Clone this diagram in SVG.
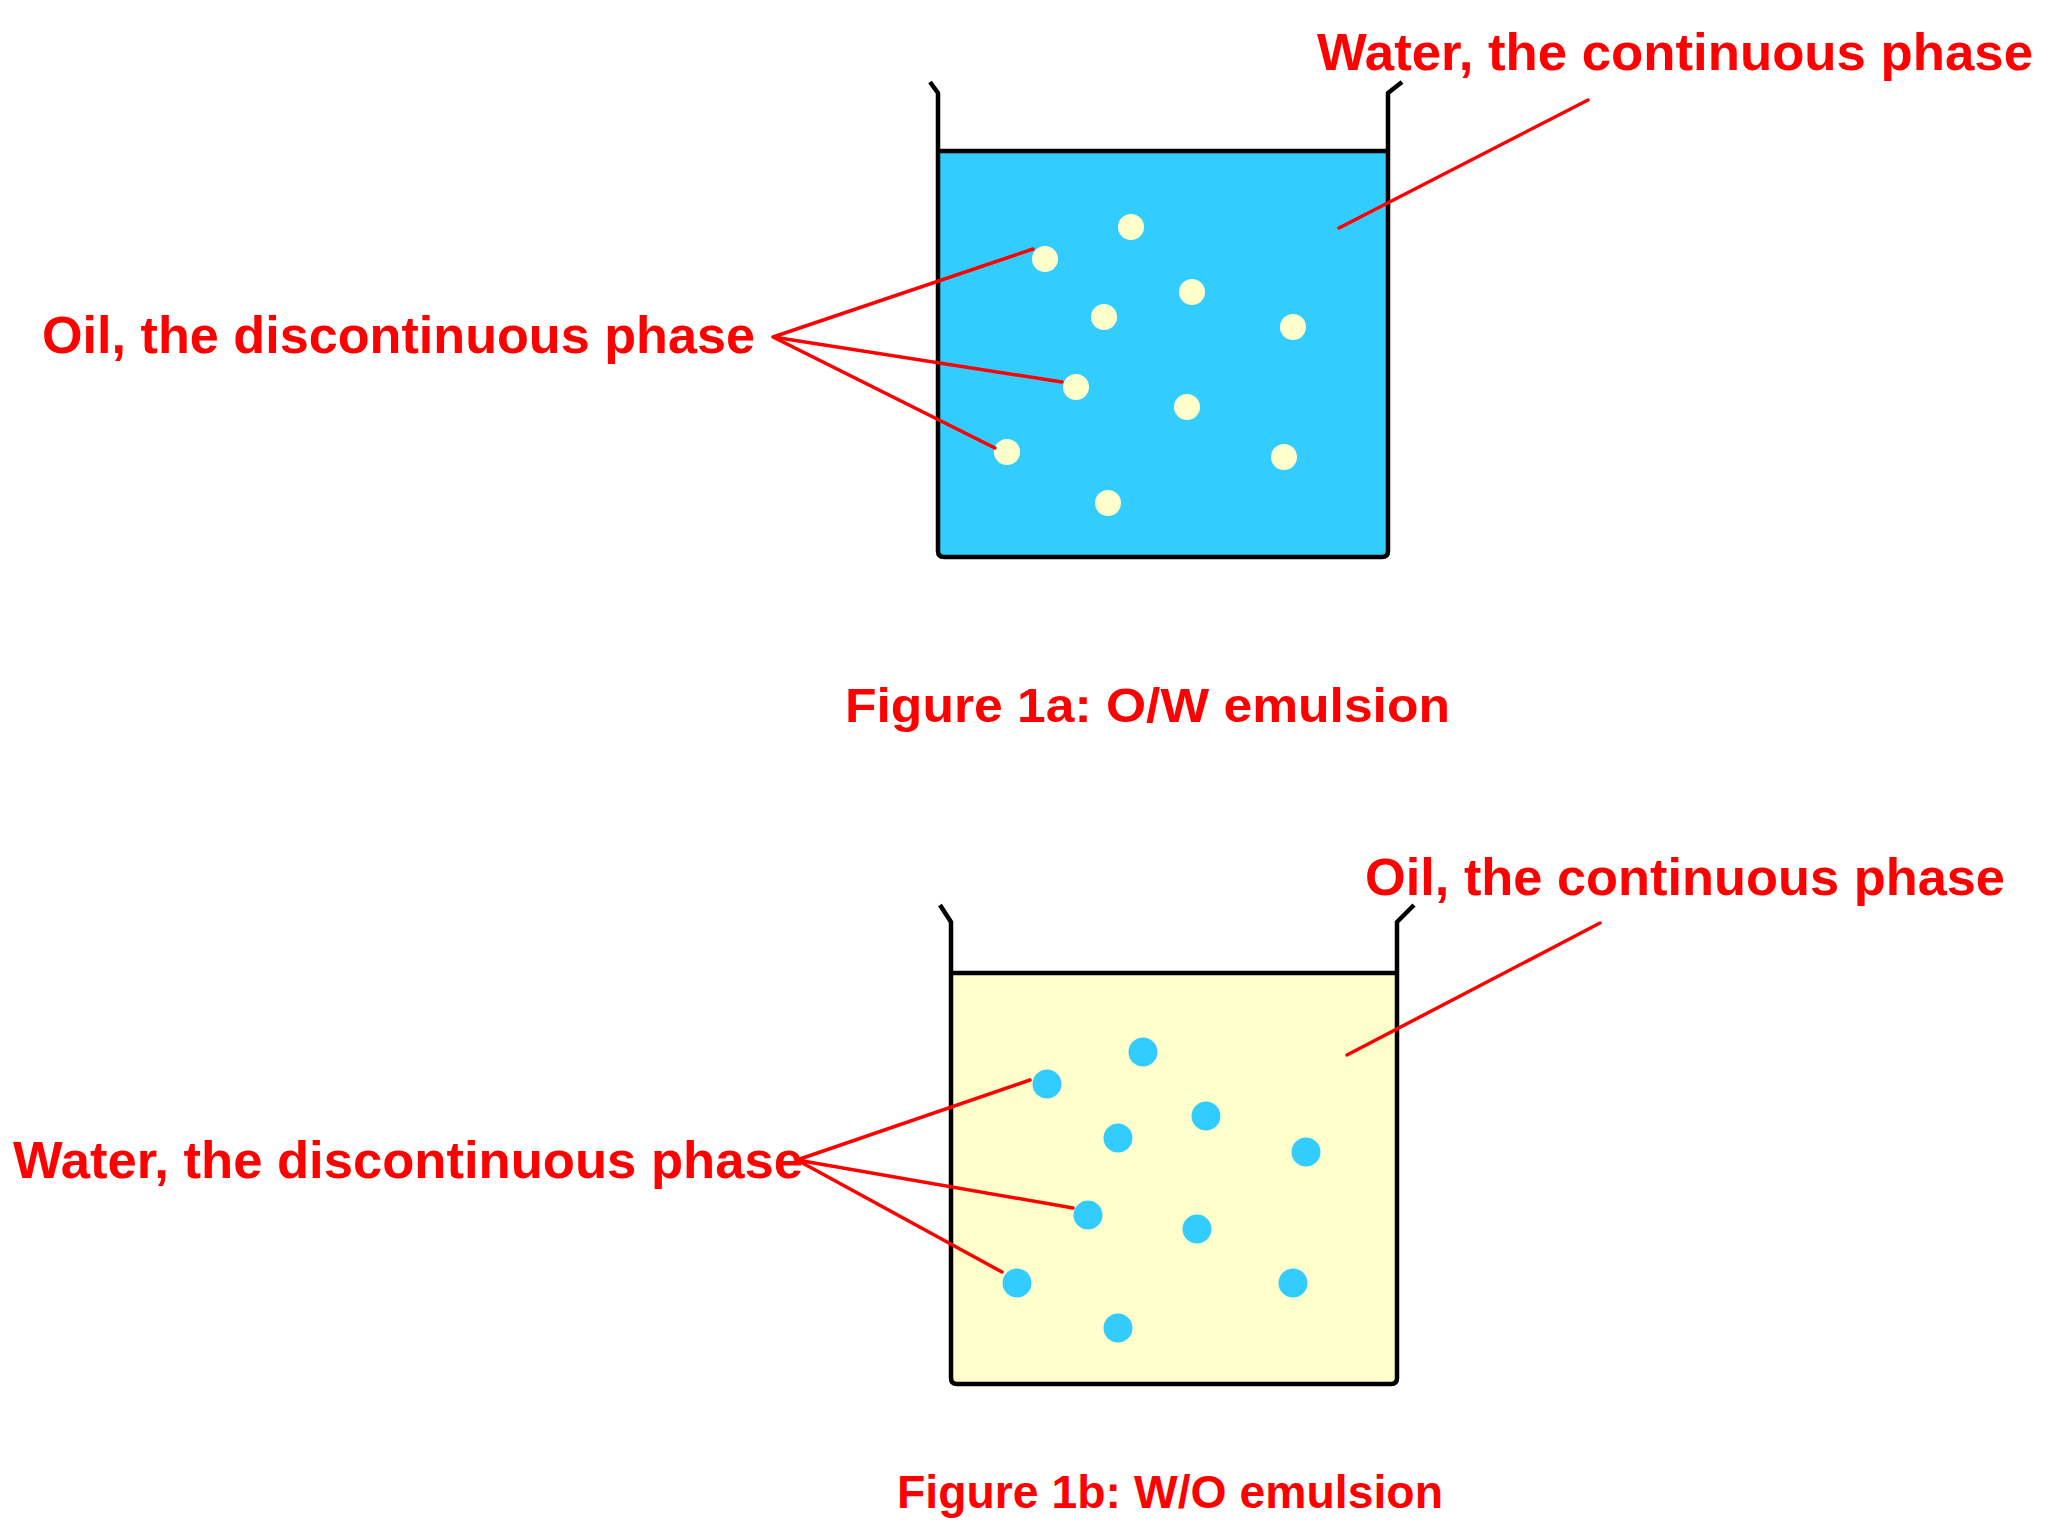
<svg xmlns="http://www.w3.org/2000/svg" width="2048" height="1536" viewBox="0 0 2048 1536">
<style>
.lbl{font-family:"Liberation Sans","Arial",sans-serif;font-weight:bold;font-size:52px;fill:#FF0000}
.cap{font-family:"Liberation Sans","Arial",sans-serif;font-weight:bold;fill:#FF0000}
.wall{fill:none;stroke:#000;stroke-width:4.5;stroke-linejoin:round}
.lev{stroke:#000;stroke-width:4.5}
.ptr{stroke:#FF0000;stroke-width:3.5;fill:none;stroke-linecap:round}
.oil{fill:#FFFFCC}
.wat{fill:#33CCFF}
</style>
<rect width="2048" height="1536" fill="#FFFFFF"/>
<g id="beaker-ow">
<rect class="wat" x="938" y="151" width="450" height="406" rx="5"/>
<line class="lev" x1="938" y1="151" x2="1388" y2="151"/>
<path class="wall" d="M930,82 L938,93 L938,551 Q938,557 944,557 L1382,557 Q1388,557 1388,551 L1388,93 L1402,82"/>
<g class="oil">
<circle cx="1131" cy="227" r="13"/>
<circle cx="1045" cy="259" r="13"/>
<circle cx="1192" cy="292" r="13"/>
<circle cx="1104" cy="317" r="13"/>
<circle cx="1293" cy="327" r="13"/>
<circle cx="1076" cy="387" r="13"/>
<circle cx="1187" cy="407" r="13"/>
<circle cx="1007" cy="452" r="13"/>
<circle cx="1284" cy="457" r="13"/>
<circle cx="1108" cy="503" r="13"/>
</g>
</g>
<g id="beaker-wo">
<rect class="oil" x="951" y="973" width="446" height="411" rx="5"/>
<line class="lev" x1="951" y1="973" x2="1397" y2="973"/>
<path class="wall" d="M940,905 L951,922 L951,1378 Q951,1384 957,1384 L1391,1384 Q1397,1384 1397,1378 L1397,922 L1414,905"/>
<g class="wat">
<circle cx="1143" cy="1052" r="14.5"/>
<circle cx="1047" cy="1084" r="14.5"/>
<circle cx="1206" cy="1116" r="14.5"/>
<circle cx="1118" cy="1138" r="14.5"/>
<circle cx="1306" cy="1152" r="14.5"/>
<circle cx="1088" cy="1215" r="14.5"/>
<circle cx="1197" cy="1229" r="14.5"/>
<circle cx="1017" cy="1283" r="14.5"/>
<circle cx="1293" cy="1283" r="14.5"/>
<circle cx="1118" cy="1328" r="14.5"/>
</g>
</g>
<g id="connectors">
<line class="ptr" x1="1588" y1="100" x2="1339" y2="228"/>
<polyline class="ptr" points="1033,249 773,337 1062,382"/>
<line class="ptr" x1="773" y1="337" x2="995" y2="448"/>
<line class="ptr" x1="1600" y1="923" x2="1347" y2="1055"/>
<polyline class="ptr" points="1030,1080 797,1160 1073,1208"/>
<line class="ptr" x1="797" y1="1160" x2="1002" y2="1272"/>
</g>
<g id="label-water-continuous"><text class="lbl" x="1317" y="70" textLength="716" lengthAdjust="spacingAndGlyphs">Water, the continuous phase</text></g>
<g id="label-oil-discontinuous"><text class="lbl" x="42" y="353" textLength="713" lengthAdjust="spacingAndGlyphs">Oil, the discontinuous phase</text></g>
<g id="caption-1a"><text class="cap" x="845" y="722" font-size="49" textLength="605" lengthAdjust="spacingAndGlyphs">Figure 1a: O/W emulsion</text></g>
<g id="label-oil-continuous"><text class="lbl" x="1365" y="895" textLength="640" lengthAdjust="spacingAndGlyphs">Oil, the continuous phase</text></g>
<g id="label-water-discontinuous"><text class="lbl" x="13" y="1178" textLength="790" lengthAdjust="spacingAndGlyphs">Water, the discontinuous phase</text></g>
<g id="caption-1b"><text class="cap" x="897" y="1508" font-size="46" textLength="546" lengthAdjust="spacingAndGlyphs">Figure 1b: W/O emulsion</text></g>
</svg>
